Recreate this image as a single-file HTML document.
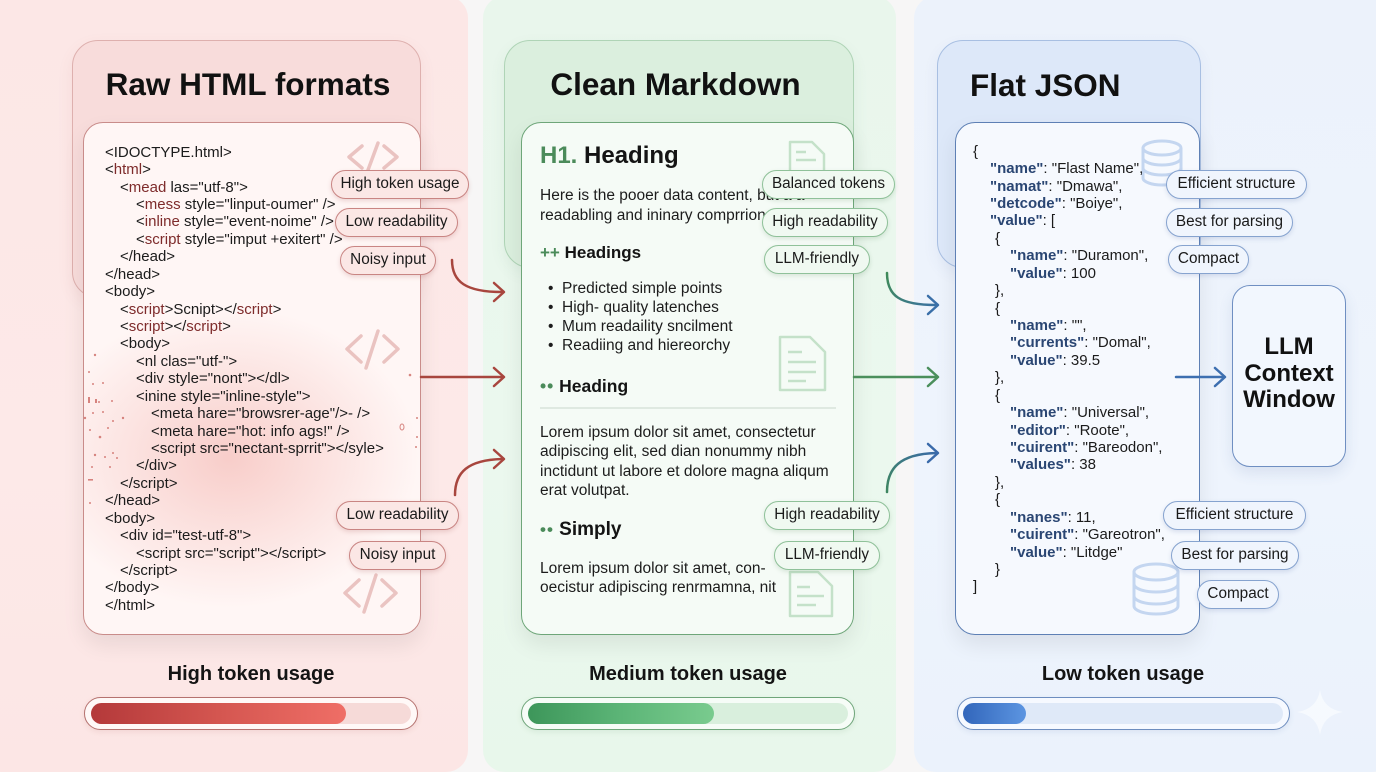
<!DOCTYPE html>
<html><head><meta charset="utf-8"><style>
*{box-sizing:border-box;margin:0;padding:0}
body{width:1376px;height:768px;position:relative;overflow:hidden;background:#f7f6f6;font-family:"Liberation Sans",Arial,sans-serif;color:#141414}
.a{position:absolute}
.panel{position:absolute;top:-4px;height:776px;border-radius:22px}
.hc{position:absolute;border-radius:26px;border:1.5px solid}
.cc{position:absolute;border-radius:20px;border:1.5px solid;box-shadow:0 10px 22px rgba(0,0,0,0.08)}
.title{position:absolute;font-weight:bold;font-size:31.5px;line-height:36px;color:#111;white-space:nowrap}
.code{position:absolute;font-size:15px;line-height:17.42px;white-space:pre;color:#1b1b1b}
.r{color:#7e2b2b}
.k{color:#2a4673;font-weight:bold}
.pill{position:absolute;height:29px;border-radius:15px;border:1.5px solid;font-size:15.3px;line-height:26px;text-align:center;white-space:nowrap;color:#1a1a1a}
.pl{background:#fbe7e5;border-color:#c98583;box-shadow:0 2px 5px rgba(150,60,60,0.18)}
.pm{background:#f0f9f1;border-color:#8fc199;box-shadow:0 2px 5px rgba(60,120,70,0.16)}
.pr{background:#f0f5fd;border-color:#86a3cf;box-shadow:0 2px 5px rgba(60,90,150,0.16)}
.mt{position:absolute;font-size:15.5px;white-space:nowrap;color:#1c1c1c}
.lab{position:absolute;top:662px;font-size:20px;line-height:24px;font-weight:bold;color:#141414;text-align:center;width:300px}
.bar{position:absolute;top:697px;height:33px;border-radius:17px;border:1.5px solid}
.trk{position:absolute;top:703px;height:21px;border-radius:11px}
</style></head><body>

<!-- background panels -->
<div class="panel" style="left:-20px;width:488px;background:linear-gradient(180deg,#fce7e6,#fde9e8 60%,#fce6e5)"></div>
<div class="panel" style="left:483px;width:413px;background:linear-gradient(180deg,#e9f6ec,#ebf8ee 60%,#e8f7eb)"></div>
<div class="panel" style="left:914px;width:480px;background:linear-gradient(180deg,#ecf2fb,#eef4fd 60%,#ebf2fc)"></div>

<!-- header cards -->
<div class="hc" style="left:72px;top:40px;width:349px;height:258px;background:#f8dcdb;border-color:#deb0ae;box-shadow:0 6px 16px rgba(160,80,80,0.08)"></div>
<div class="hc" style="left:504px;top:40px;width:350px;height:228px;background:#dbefde;border-color:#afd4b6;box-shadow:0 6px 16px rgba(60,120,70,0.07)"></div>
<div class="hc" style="left:937px;top:40px;width:264px;height:228px;background:#dde8f9;border-color:#a8bfe2;box-shadow:0 6px 16px rgba(60,90,150,0.07)"></div>

<div class="title" style="left:72px;width:352px;top:66px;text-align:center">Raw HTML formats</div>
<div class="title" style="left:500px;width:351px;top:66px;text-align:center">Clean Markdown</div>
<div class="title" style="left:970px;top:67px">Flat JSON</div>

<!-- content cards -->
<div class="cc" style="left:83px;top:122px;width:338px;height:513px;border-color:#c98c8a;background:radial-gradient(ellipse 190px 150px at 145px 335px,rgba(242,172,166,0.55),rgba(255,246,245,0) 100%),#fff6f5"></div>
<div class="cc" style="left:521px;top:122px;width:333px;height:513px;border-color:#6ea679;background:#f5fbf6"></div>
<div class="cc" style="left:955px;top:122px;width:245px;height:513px;border-color:#5e80b5;background:#f6f9fe"></div>

<!-- faint icons -->
<svg class="a" style="left:0;top:0" width="1376" height="768" viewBox="0 0 1376 768">
 <g fill="none" stroke="#e3b3b0" stroke-width="3.5" stroke-linecap="round" stroke-linejoin="round" opacity="0.75">
  <polyline points="362,146 349,157 362,168"/><line x1="378" y1="143" x2="368" y2="170"/><polyline points="384,146 397,157 384,168"/>
  <polyline points="361,336 347,349 361,362"/><line x1="378" y1="331" x2="366" y2="368"/><polyline points="384,336 398,349 384,362"/>
  <polyline points="359,580 345,593 359,606"/><line x1="376" y1="575" x2="364" y2="612"/><polyline points="382,580 396,593 382,606"/>
 </g>
 <g fill="none" stroke="#b9dbbf" stroke-width="2.5" stroke-linejoin="round" opacity="0.8">
  <path d="M790,142 h22 l12,12 v30 h-34 z"/><line x1="796" y1="152" x2="806" y2="152"/><line x1="796" y1="160" x2="816" y2="160"/>
  <path d="M780,337 h30 l15,15 v38 h-45 z"/><line x1="788" y1="352" x2="802" y2="352"/><line x1="788" y1="362" x2="816" y2="362"/><line x1="788" y1="372" x2="816" y2="372"/><line x1="788" y1="381" x2="806" y2="381"/>
  <path d="M790,572 h28 l14,14 v30 h-42 z"/><line x1="797" y1="587" x2="810" y2="587"/><line x1="797" y1="596" x2="824" y2="596"/><line x1="797" y1="605" x2="816" y2="605"/>
 </g>
 <g fill="none" stroke="#bcd0ee" stroke-width="3" opacity="0.85">
  <ellipse cx="1162" cy="148" rx="19" ry="7"/><path d="M1143,148 v30 a19,7 0 0 0 38,0 v-30"/><path d="M1143,158 a19,7 0 0 0 38,0"/><path d="M1143,168 a19,7 0 0 0 38,0"/>
  <ellipse cx="1156" cy="572" rx="22" ry="8"/><path d="M1134,572 v34 a22,8 0 0 0 44,0 v-34"/><path d="M1134,584 a22,8 0 0 0 44,0"/><path d="M1134,596 a22,8 0 0 0 44,0"/>
 </g>
 <!-- speckles -->
 <g fill="#c9605a" opacity="0.75">
  <circle cx="95" cy="355" r="1.2"/><circle cx="89" cy="372" r="1"/><circle cx="93" cy="384" r="1"/><circle cx="103" cy="383" r="1"/>
  <rect x="88" y="397" width="2" height="6"/><rect x="95" y="399" width="2" height="4"/><circle cx="99" cy="402" r="1"/><circle cx="112" cy="401" r="1"/>
  <circle cx="85" cy="418" r="1.2"/><circle cx="93" cy="413" r="1"/><circle cx="103" cy="412" r="1"/><circle cx="123" cy="418" r="1.2"/>
  <circle cx="113" cy="421" r="1"/><circle cx="90" cy="430" r="1"/><circle cx="100" cy="437" r="1.3"/><circle cx="108" cy="428" r="1"/>
  <circle cx="95" cy="455" r="1.2"/><circle cx="105" cy="457" r="1"/><circle cx="113" cy="453" r="1"/><circle cx="117" cy="458" r="1"/>
  <circle cx="92" cy="467" r="1"/><circle cx="110" cy="467" r="1"/><rect x="88" y="479" width="5" height="1.6"/><circle cx="90" cy="503" r="1"/>
  <circle cx="410" cy="375" r="1.3"/><ellipse cx="402" cy="427" rx="2" ry="3" fill="none" stroke="#c9605a" stroke-width="1"/><circle cx="417" cy="418" r="1"/><circle cx="417" cy="437" r="1"/><circle cx="416" cy="447" r="1"/>
 </g>
</svg>

<!-- left code -->
<div class="code" style="left:0;top:143.8px"><div style="padding-left:105px">&lt;IDOCTYPE.html&gt;</div><div style="padding-left:105px">&lt;<span class="r">html</span>&gt;</div><div style="padding-left:120px">&lt;<span class="r">mead</span> las="utf-8"&gt;</div><div style="padding-left:136px">&lt;<span class="r">mess</span> style="linput-oumer" /&gt;</div><div style="padding-left:136px">&lt;<span class="r">inline</span> style="event-noime" /&gt;</div><div style="padding-left:136px">&lt;<span class="r">script</span> style="imput +exitert" /&gt;</div><div style="padding-left:120px">&lt;/head&gt;</div><div style="padding-left:105px">&lt;/head&gt;</div><div style="padding-left:105px">&lt;body&gt;</div><div style="padding-left:120px">&lt;<span class="r">script</span>&gt;Scnipt&gt;&lt;/<span class="r">script</span>&gt;</div><div style="padding-left:120px">&lt;<span class="r">script</span>&gt;&lt;/<span class="r">script</span>&gt;</div><div style="padding-left:120px">&lt;body&gt;</div><div style="padding-left:136px">&lt;nl clas="utf-"&gt;</div><div style="padding-left:136px">&lt;div style="nont"&gt;&lt;/dl&gt;</div><div style="padding-left:136px">&lt;inine style="inline-style"&gt;</div><div style="padding-left:151px">&lt;meta hare="browsrer-age"/&gt;- /&gt;</div><div style="padding-left:151px">&lt;meta hare="hot: info ags!" /&gt;</div><div style="padding-left:151px">&lt;script src="nectant-sprrit"&gt;&lt;/syle&gt;</div><div style="padding-left:136px">&lt;/div&gt;</div><div style="padding-left:120px">&lt;/script&gt;</div><div style="padding-left:105px">&lt;/head&gt;</div><div style="padding-left:105px">&lt;body&gt;</div><div style="padding-left:120px">&lt;div id="test-utf-8"&gt;</div><div style="padding-left:136px">&lt;script src="script"&gt;&lt;/script&gt;</div><div style="padding-left:120px">&lt;/script&gt;</div><div style="padding-left:105px">&lt;/body&gt;</div><div style="padding-left:105px">&lt;/html&gt;</div></div>

<!-- middle content -->
<div class="a" style="left:540px;top:142px;font-size:24px;line-height:28px;font-weight:bold;white-space:nowrap"><span style="color:#4b8b5a">H1.</span> Heading</div>
<div class="mt" style="left:540px;top:186px;line-height:19.5px">Here is the pooer data content, but a a<br>readabling and ininary comprrions</div>
<div class="a" style="left:540px;top:242px;font-size:17px;line-height:22px;font-weight:bold;white-space:nowrap"><span style="color:#4b8b5a">++</span> Headings</div>
<div class="mt" style="left:548px;top:278.5px;line-height:19.3px">•&nbsp;&nbsp;Predicted simple points<br>•&nbsp;&nbsp;High- quality latenches<br>•&nbsp;&nbsp;Mum readaility sncilment<br>•&nbsp;&nbsp;Readiing and hiereorchy</div>
<div class="a" style="left:540px;top:375px;font-size:17.5px;line-height:22px;font-weight:bold;white-space:nowrap"><span style="color:#4b8b5a;letter-spacing:1px">••</span> Heading</div>
<div class="a" style="left:540px;top:407px;width:296px;height:1.5px;background:#dfe9e1"></div>
<div class="mt" style="left:540px;top:423px;line-height:19.4px">Lorem ipsum dolor sit amet, consectetur<br>adipiscing elit, sed dian nonummy nibh<br>inctidunt ut labore et dolore magna aliqum<br>erat volutpat.</div>
<div class="a" style="left:540px;top:519px;font-size:19px;line-height:22px;font-weight:bold;white-space:nowrap"><span style="color:#4b8b5a;font-size:17px;letter-spacing:1px">••</span> Simply</div>
<div class="mt" style="left:540px;top:559px;line-height:19px">Lorem ipsum dolor sit amet, con-<br>oecistur adipiscing renrmamna, nit</div>

<!-- right json -->
<div class="code" style="left:0;top:142.8px;font-size:15px"><div style="padding-left:973px">{</div><div style="padding-left:990px"><span class="k">"name"</span>: "Flast Name",</div><div style="padding-left:990px"><span class="k">"namat"</span>: "Dmawa",</div><div style="padding-left:990px"><span class="k">"detcode"</span>: "Boiye",</div><div style="padding-left:990px"><span class="k">"value"</span>: [</div><div style="padding-left:995px">{</div><div style="padding-left:1010px"><span class="k">"name"</span>: "Duramon",</div><div style="padding-left:1010px"><span class="k">"value"</span>: 100</div><div style="padding-left:995px">},</div><div style="padding-left:995px">{</div><div style="padding-left:1010px"><span class="k">"name"</span>: "",</div><div style="padding-left:1010px"><span class="k">"currents"</span>: "Domal",</div><div style="padding-left:1010px"><span class="k">"value"</span>: 39.5</div><div style="padding-left:995px">},</div><div style="padding-left:995px">{</div><div style="padding-left:1010px"><span class="k">"name"</span>: "Universal",</div><div style="padding-left:1010px"><span class="k">"editor"</span>: "Roote",</div><div style="padding-left:1010px"><span class="k">"cuirent"</span>: "Bareodon",</div><div style="padding-left:1010px"><span class="k">"values"</span>: 38</div><div style="padding-left:995px">},</div><div style="padding-left:995px">{</div><div style="padding-left:1010px"><span class="k">"nanes"</span>: 11,</div><div style="padding-left:1010px"><span class="k">"cuirent"</span>: "Gareotron",</div><div style="padding-left:1010px"><span class="k">"value"</span>: "Litdge"</div><div style="padding-left:995px">}</div><div style="padding-left:973px">]</div></div>

<!-- LLM box -->
<div class="a" style="left:1232px;top:285px;width:114px;height:182px;border:1.5px solid #6f8fc2;border-radius:18px;background:#f2f7fe;box-shadow:0 6px 14px rgba(60,90,150,0.12)"></div>
<div class="a" style="left:1232px;top:334px;width:114px;text-align:center;font-weight:bold;font-size:24px;line-height:26.5px;color:#111">LLM<br>Context<br>Window</div>

<!-- arrows -->
<svg class="a" style="left:0;top:0" width="1376" height="768" viewBox="0 0 1376 768">
 <defs>
  <linearGradient id="gb1" x1="887" y1="273" x2="939" y2="306" gradientUnits="userSpaceOnUse"><stop offset="0" stop-color="#3f8a58"/><stop offset="1" stop-color="#3a6fa8"/></linearGradient>
  <linearGradient id="gb2" x1="887" y1="492" x2="939" y2="453" gradientUnits="userSpaceOnUse"><stop offset="0" stop-color="#3e8660"/><stop offset="1" stop-color="#3a6aaa"/></linearGradient>
 </defs>
 <g fill="none" stroke="#a8463e" stroke-width="2.5" stroke-linecap="round" stroke-linejoin="round">
  <path d="M452,260 C452,282 466,292 502,292"/><polyline points="494,283 504,292 494,301"/>
  <path d="M421,377 H503"/><polyline points="494,368 504,377 494,386"/>
  <path d="M455,495 C455,472 468,460 502,459"/><polyline points="494,450 504,459 494,468"/>
 </g>
 <g fill="none" stroke-width="2.5" stroke-linecap="round" stroke-linejoin="round">
  <path d="M887,273 C887,296 900,305 936,305" stroke="url(#gb1)"/><polyline points="928,296 938,305 928,314" stroke="#3a6fa8"/>
  <path d="M854,377 H936" stroke="#4b8f5c"/><polyline points="928,368 938,377 928,386" stroke="#4b8f5c"/>
  <path d="M887,492 C887,468 900,454 936,453" stroke="url(#gb2)"/><polyline points="928,444 938,453 928,462" stroke="#3a6aaa"/>
  <path d="M1176,377 H1223" stroke="#3d6fb0"/><polyline points="1215,368 1225,377 1215,386" stroke="#3d6fb0"/>
 </g>
 <path d="M1320,690 Q1323,709 1343,712 Q1323,715 1320,735 Q1317,715 1297,712 Q1317,709 1320,690 Z" fill="#ffffff" opacity="0.55"/>
</svg>

<!-- pills left -->
<div class="pill pl" style="left:331px;top:170px;width:138px">High token usage</div>
<div class="pill pl" style="left:335px;top:208px;width:123px">Low readability</div>
<div class="pill pl" style="left:340px;top:246px;width:96px">Noisy input</div>
<div class="pill pl" style="left:336px;top:501px;width:123px">Low readability</div>
<div class="pill pl" style="left:349px;top:541px;width:97px">Noisy input</div>

<!-- pills middle -->
<div class="pill pm" style="left:762px;top:170px;width:133px">Balanced tokens</div>
<div class="pill pm" style="left:762px;top:208px;width:126px">High readability</div>
<div class="pill pm" style="left:764px;top:245px;width:106px">LLM-friendly</div>
<div class="pill pm" style="left:764px;top:501px;width:126px">High readability</div>
<div class="pill pm" style="left:774px;top:541px;width:106px">LLM-friendly</div>

<!-- pills right -->
<div class="pill pr" style="left:1166px;top:170px;width:141px">Efficient structure</div>
<div class="pill pr" style="left:1166px;top:208px;width:127px">Best for parsing</div>
<div class="pill pr" style="left:1168px;top:245px;width:81px">Compact</div>
<div class="pill pr" style="left:1163px;top:501px;width:143px">Efficient structure</div>
<div class="pill pr" style="left:1171px;top:541px;width:128px">Best for parsing</div>
<div class="pill pr" style="left:1197px;top:580px;width:82px">Compact</div>

<!-- bottom labels -->
<div class="lab" style="left:101px">High token usage</div>
<div class="lab" style="left:538px">Medium token usage</div>
<div class="lab" style="left:973px">Low token usage</div>

<!-- bars -->
<div class="bar" style="left:84px;width:334px;border-color:#b5726f;background:#fff8f7;box-shadow:0 2px 6px rgba(150,60,60,0.1)"></div>
<div class="trk" style="left:91px;width:320px;background:#f6dad8"></div>
<div class="trk" style="left:91px;width:255px;background:linear-gradient(90deg,#b4393a,#d45650 50%,#ef6e66)"></div>

<div class="bar" style="left:521px;width:334px;border-color:#6fa57a;background:#f6fcf7;box-shadow:0 2px 6px rgba(60,120,70,0.1)"></div>
<div class="trk" style="left:528px;width:320px;background:#d9efdd"></div>
<div class="trk" style="left:528px;width:186px;background:linear-gradient(90deg,#3d965a,#5cb577 50%,#79cb8e)"></div>

<div class="bar" style="left:957px;width:333px;border-color:#6d8dbf;background:#f6f9ff;box-shadow:0 2px 6px rgba(60,90,150,0.1)"></div>
<div class="trk" style="left:963px;width:320px;background:#dfe9f8"></div>
<div class="trk" style="left:963px;width:63px;background:linear-gradient(90deg,#3266bb,#5c95e1)"></div>

</body></html>
